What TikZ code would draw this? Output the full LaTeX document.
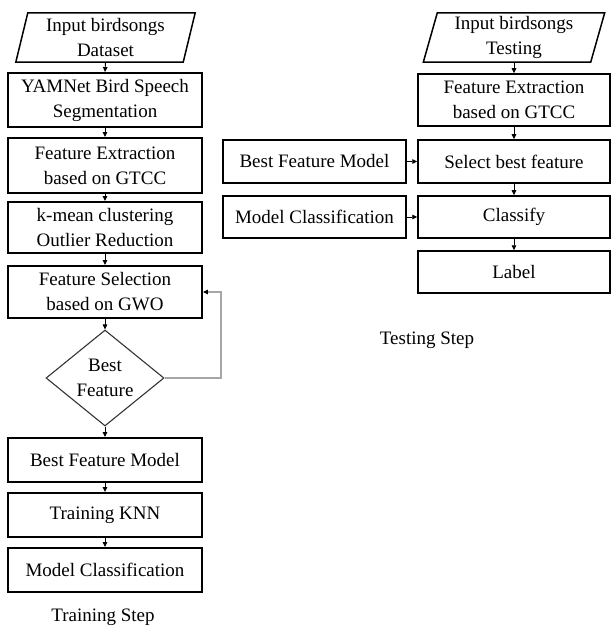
\documentclass[tikz,border=0pt]{standalone}
\usepackage{fontspec}
\setmainfont{Liberation Serif}
\usetikzlibrary{shapes.geometric,arrows.meta,calc}
\begin{document}
\begin{tikzpicture}[x=1pt,y=-1pt,
  every node/.style={font=\fontsize{19}{25}\selectfont, align=center, inner sep=0pt},
  lbox/.style={draw=black, line width=1.9pt, rectangle, minimum width=194pt},
  rbox/.style={draw=black, line width=1.5pt, rectangle, minimum width=192pt},
  sbox/.style={draw=black, line width=1.5pt, rectangle, minimum width=183pt, minimum height=43pt},
  ptext/.style={minimum width=167pt, minimum height=49pt},
  para/.style={draw=black, line width=1.5pt},
  decide/.style={diamond, draw=black!80, line width=1.1pt, aspect=1.2, minimum width=118pt, minimum height=96pt},
  conn/.style={line width=0.9pt, -{Triangle[length=5pt,width=4.5pt]}},
  back/.style={draw=black!35, line width=1.3pt, -{Triangle[length=5pt,width=4.5pt,fill=black,color=black]}},
  caption/.style={}
]
\useasboundingbox (0,0) rectangle (611,628);

% ---------- Training column ----------
\node[ptext] (in1) at (105.5,37.5) {Input birdsongs\\Dataset};
\draw[para] ($(in1.north west)+(6,0)$) -- ($(in1.north east)+(6,0)$)
  -- ($(in1.south east)+(-6,0)$) -- ($(in1.south west)+(-6,0)$) -- cycle;
\node[lbox, minimum height=54pt] (yam) at (105,100) {YAMNet Bird Speech\\Segmentation};
\node[lbox, minimum height=55pt] (fe1) at (105,165.5) {Feature Extraction\\based on GTCC};
\node[lbox, minimum height=51pt] (km) at (105,227.5) {k-mean clustering\\Outlier Reduction};
\node[lbox, minimum height=52pt] (fs) at (105,292) {Feature Selection\\based on GWO};
\node[decide] (best) at (105,378) {Best\\Feature};
\node[lbox, minimum height=44pt] (bfm1) at (105,460) {Best Feature Model};
\node[lbox, minimum height=44pt] (knn) at (105,515) {Training KNN};
\node[lbox, minimum height=44pt] (mc1) at (105,570) {Model Classification};
\node[caption] (trs) at (103,617) {Training Step};
\coordinate (loopc) at (221,378);

\draw[conn] (in1.south) -- (yam.north);
\draw[conn] (yam) -- (fe1);
\draw[conn] (fe1) -- (km);
\draw[conn] (km) -- (fs);
\draw[conn] (fs) -- (best);
\draw[conn] (best) -- (bfm1);
\draw[conn] (bfm1) -- (knn);
\draw[conn] (knn) -- (mc1);
\draw[back] (best.east) -- (loopc) |- (fs.east);

% ---------- Testing column ----------
\node[ptext] (in2) at (514,37.5) {Input birdsongs\\Testing};
\draw[para] ($(in2.north west)+(7,0)$) -- ($(in2.north east)+(7,0)$)
  -- ($(in2.south east)+(-7,0)$) -- ($(in2.south west)+(-7,0)$) -- cycle;
\node[rbox, minimum height=52pt] (fe2) at (514,100) {Feature Extraction\\based on GTCC};
\node[rbox, minimum height=43pt] (sel) at (514,161.5) {Select best feature};
\node[rbox, minimum height=42pt] (cls) at (514,217) {Classify};
\node[rbox, minimum height=42pt] (lab) at (514,272) {Label};
\node[sbox] (bfm2) at (314.5,161.5) {Best Feature Model};
\node[sbox, minimum height=42pt] (mc2) at (314.5,217) {Model Classification};
\node[caption] (tes) at (427,340) {Testing Step};

\draw[conn] (in2.south) -- (fe2.north);
\draw[conn] (fe2) -- (sel);
\draw[conn] (sel) -- (cls);
\draw[conn] (cls) -- (lab);
\draw[conn] (bfm2) -- (sel);
\draw[conn] (mc2) -- (cls);
\end{tikzpicture}
\end{document}
